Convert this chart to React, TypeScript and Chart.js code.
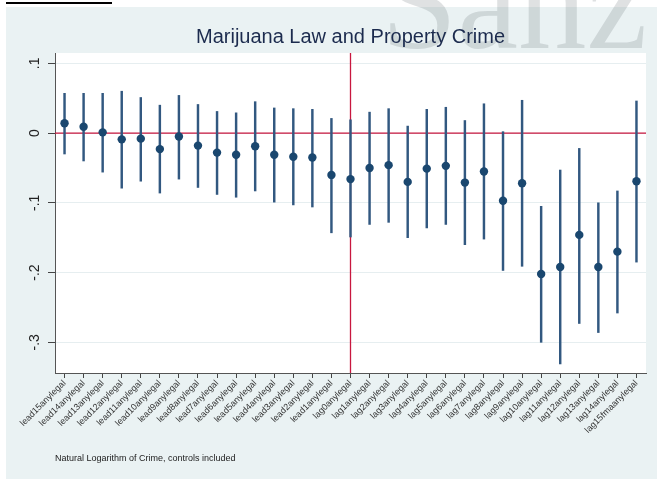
import React, { useEffect, useRef } from "react";
import { Chart, registerables } from "chart.js";

Chart.register(...registerables);

const categories = [
  "lead15anylegal", "lead14anylegal", "lead13anylegal", "lead12anylegal", "lead11anylegal",
  "lead10anylegal", "lead9anylegal", "lead8anylegal", "lead7anylegal", "lead6anylegal",
  "lead5anylegal", "lead4anylegal", "lead3anylegal", "lead2anylegal", "lead1anylegal",
  "lag0anylegal", "lag1anylegal", "lag2anylegal", "lag3anylegal", "lag4anylegal",
  "lag5anylegal", "lag6anylegal", "lag7anylegal", "lag8anylegal", "lag9anylegal",
  "lag10anylegal", "lag11anylegal", "lag12anylegal", "lag13anylegal", "lag14anylegal",
  "lag15fmaanylegal",
];

const coef = [
  0.014, 0.009, 0.001, -0.009, -0.008, -0.023, -0.005, -0.018, -0.028, -0.031,
  -0.019, -0.031, -0.034, -0.035, -0.060, -0.066, -0.050, -0.046, -0.070, -0.051,
  -0.047, -0.071, -0.055, -0.097, -0.072, -0.202, -0.192, -0.146, -0.192, -0.170,
  -0.069,
];

const upper = [
  0.057, 0.057, 0.057, 0.060, 0.051, 0.040, 0.054, 0.041, 0.031, 0.029,
  0.045, 0.036, 0.035, 0.034, 0.021, 0.019, 0.030, 0.035, 0.010, 0.034,
  0.037, 0.018, 0.042, 0.002, 0.047, -0.105, -0.053, -0.022, -0.100, -0.083,
  0.046,
];

const lower = [
  -0.030, -0.040, -0.056, -0.079, -0.069, -0.086, -0.066, -0.078, -0.088, -0.092,
  -0.083, -0.099, -0.103, -0.106, -0.143, -0.149, -0.131, -0.128, -0.150, -0.136,
  -0.131, -0.160, -0.152, -0.197, -0.191, -0.300, -0.331, -0.273, -0.286, -0.258,
  -0.185,
];

const yTickValues = [0.1, 0, -0.1, -0.2, -0.3];
const yTickLabels = [".1", "0", "-.1", "-.2", "-.3"];
const lawCategory = "lag0anylegal";

const titleText = "Marijuana Law and Property Crime";
const noteText = "Natural Logarithm of Crime, controls included";

const refLines = {
  id: "refLines",
  beforeDraw(chart: any) {
    const { ctx, chartArea } = chart;
    ctx.save();
    ctx.fillStyle = "#ffffff";
    ctx.fillRect(chartArea.left, chartArea.top, chartArea.right - chartArea.left, chartArea.bottom - chartArea.top);
    ctx.restore();
  },
  beforeDatasetsDraw(chart: any) {
    const { ctx, chartArea, scales } = chart;
    const y0 = scales.y.getPixelForValue(0);
    const xi = categories.indexOf(lawCategory);
    const x0 = scales.x.getPixelForValue(xi);
    ctx.save();
    ctx.strokeStyle = "#c8173f";
    ctx.lineWidth = 1.3;
    ctx.beginPath();
    ctx.moveTo(chartArea.left, y0);
    ctx.lineTo(chartArea.right, y0);
    ctx.moveTo(x0, chartArea.top);
    ctx.lineTo(x0, chartArea.bottom);
    ctx.stroke();
    ctx.restore();
  },
};

export default function App() {
  const ref = useRef<HTMLCanvasElement>(null);

  useEffect(() => {
    const canvas = ref.current;
    if (!canvas) return;
    const chart = new Chart(canvas, {
      type: "bar",
      data: {
        labels: categories,
        datasets: [
          {
            type: "line",
            label: "coef",
            data: coef,
            showLine: false,
            pointRadius: 4.2,
            pointHoverRadius: 4.2,
            pointBackgroundColor: "#1a476f",
            pointBorderColor: "#1a476f",
            pointBorderWidth: 0,
            order: 0,
          } as any,
          {
            type: "bar",
            label: "ci",
            data: lower.map((lo, i) => [lo, upper[i]]),
            backgroundColor: "#325880",
            borderWidth: 0,
            barThickness: 1.8,
            order: 1,
          } as any,
        ],
      },
      options: {
        animation: false,
        responsive: false,
        devicePixelRatio: 1,
        layout: { padding: { top: 8, right: 11, bottom: 0, left: 0 } },
        plugins: {
          legend: { display: false },
          tooltip: { enabled: false },
          title: {
            display: true,
            text: titleText,
            fullSize: false,
            color: "#1c2b4e",
            font: { family: "'Liberation Sans', Arial, sans-serif", size: 20, weight: "normal" },
            padding: { top: 17, bottom: 4 },
          },
          subtitle: {
            display: true,
            text: noteText,
            position: "bottom",
            align: "start",
            fullSize: false,
            color: "#222222",
            font: { family: "'Liberation Sans', Arial, sans-serif", size: 9, weight: "normal" },
            padding: { top: 0, bottom: 14.6 },
          },
        },
        scales: {
          x: {
            type: "category",
            offset: true,
            grid: {
              display: true,
              offset: false,
              drawOnChartArea: false,
              drawTicks: true,
              tickLength: 5,
              tickColor: "#444444",
            },
            border: { display: true, color: "#555555", width: 1 },
            ticks: {
              autoSkip: false,
              minRotation: 45,
              maxRotation: 45,
              padding: 0,
              color: "#333333",
              font: { family: "'Liberation Sans', Arial, sans-serif", size: 9 },
            },
            afterFit(scale: any) {
              scale.height = 80.6;
            },
          },
          y: {
            type: "linear",
            min: -0.344,
            max: 0.1148,
            afterBuildTicks(scale: any) {
              scale.ticks = yTickValues.map((v) => ({ value: v }));
            },
            afterFit(scale: any) {
              scale.width = 55;
            },
            grid: {
              color: "#e6eef0",
              lineWidth: 1,
              drawTicks: true,
              tickLength: 7,
              tickColor: "#444444",
            },
            border: { display: true, color: "#555555", width: 1 },
            ticks: {
              minRotation: 90,
              maxRotation: 90,
              crossAlign: "center",
              padding: 5,
              color: "#222222",
              font: { family: "'Liberation Sans', Arial, sans-serif", size: 14 },
              callback: (value: any) => {
                const idx = yTickValues.findIndex((v) => Math.abs(v - Number(value)) < 1e-9);
                return idx >= 0 ? yTickLabels[idx] : "";
              },
            },
          },
        },
      },
      plugins: [refLines],
    });
    return () => chart.destroy();
  }, []);

  return (
    <div style={{ position: "absolute", left: 0, top: 0, width: 657, height: 479, background: "#ffffff", overflow: "hidden" }}>
      <div style={{ position: "absolute", left: 6, top: 2, width: 106, height: 2, background: "#000000" }} />
      <div style={{ position: "absolute", left: 6, top: 7, width: 651, height: 472, background: "#eaf2f3" }} />
      <div
        style={{
          position: "absolute",
          left: 381,
          top: -66,
          fontFamily: "'Liberation Serif', 'Times New Roman', serif",
          fontSize: 137,
          lineHeight: 1,
          color: "rgba(110,120,125,0.22)",
          whiteSpace: "nowrap",
        }}
      >
        Sanz
      </div>
      <canvas ref={ref} width={657} height={479} style={{ position: "absolute", left: 0, top: 0, width: 657, height: 479 }} />
    </div>
  );
}
